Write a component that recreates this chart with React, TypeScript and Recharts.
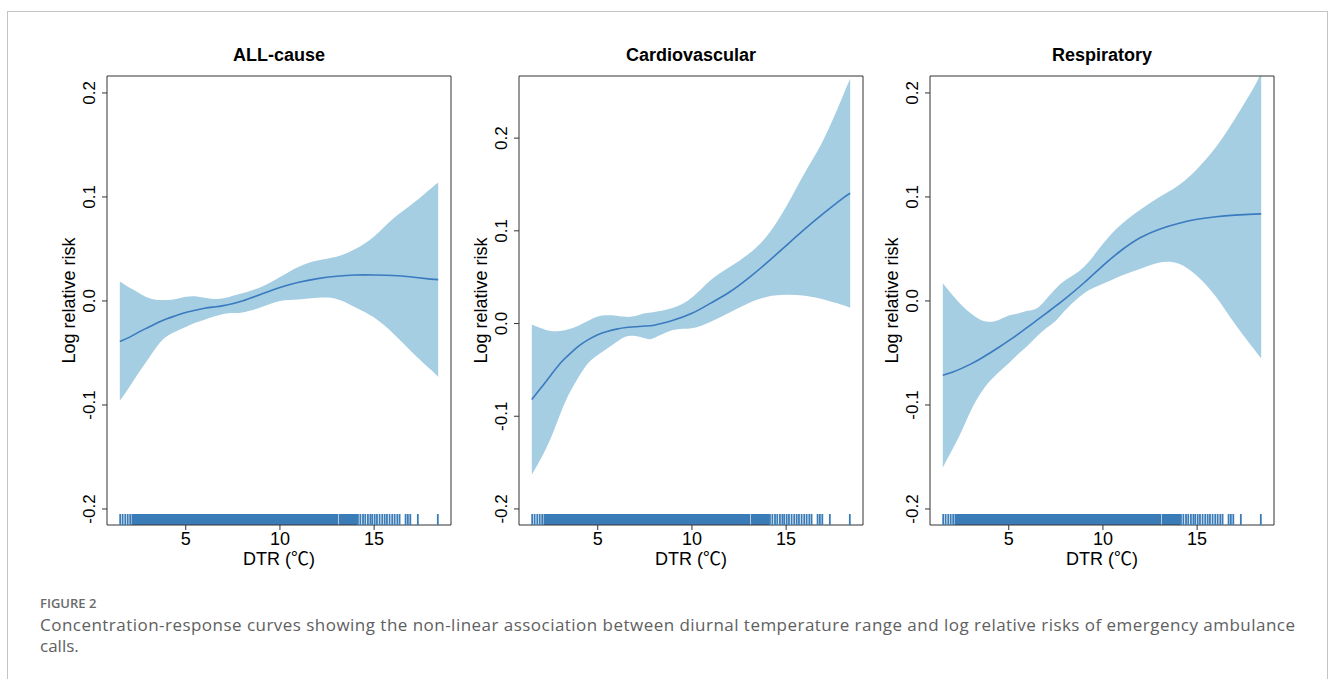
import React from 'react';
import {
  ComposedChart,
  Area,
  Line,
  Scatter,
  XAxis,
  YAxis,
  ReferenceArea,
} from 'recharts';

// DTR grid the curves were read at (°C)
const dtr = [1.5, 2, 2.5, 3, 3.5, 4, 4.5, 5, 5.5, 6, 6.5, 7, 7.5, 8, 9, 10, 11, 12, 13, 14, 15, 16, 17, 18, 18.4];

// ALL-cause
const allFit = [-0.039, -0.035, -0.03, -0.0255, -0.021, -0.017, -0.014, -0.011, -0.009, -0.007, -0.0058, -0.0045, -0.0025, 0.0, 0.0065, 0.013, 0.018, 0.0215, 0.0238, 0.025, 0.025, 0.0245, 0.023, 0.021, 0.0205];
const allHigh = [0.0188, 0.013, 0.008, 0.003, 0.001, 0.001, 0.002, 0.004, 0.0045, 0.003, 0.002, 0.0025, 0.005, 0.0075, 0.0135, 0.023, 0.033, 0.039, 0.0425, 0.05, 0.062, 0.079, 0.093, 0.108, 0.114];
const allLow = [-0.096, -0.083, -0.069, -0.056, -0.043, -0.034, -0.029, -0.025, -0.021, -0.018, -0.015, -0.0125, -0.0115, -0.011, -0.006, 0.0, 0.0015, 0.003, 0.002, -0.006, -0.016, -0.031, -0.049, -0.066, -0.073];

// Cardiovascular
const cvdFit = [-0.082, -0.069, -0.056, -0.043, -0.033, -0.024, -0.0173, -0.012, -0.0085, -0.006, -0.0043, -0.0035, -0.0027, -0.0018, 0.0035, 0.011, 0.022, 0.034, 0.049, 0.066, 0.084, 0.102, 0.119, 0.135, 0.1405];
const cvdHigh = [-0.001, -0.005, -0.008, -0.008, -0.006, -0.002, 0.003, 0.0075, 0.009, 0.0085, 0.0072, 0.008, 0.011, 0.0125, 0.017, 0.028, 0.047, 0.061, 0.075, 0.095, 0.126, 0.163, 0.199, 0.245, 0.264];
const cvdLow = [-0.163, -0.145, -0.124, -0.098, -0.075, -0.057, -0.0425, -0.034, -0.027, -0.02, -0.014, -0.0135, -0.016, -0.0155, -0.007, -0.005, 0.002, 0.012, 0.022, 0.029, 0.031, 0.03, 0.026, 0.02, 0.017];

// Respiratory
const respFit = [-0.0715, -0.0685, -0.0648, -0.0605, -0.0555, -0.05, -0.0443, -0.0382, -0.0318, -0.0252, -0.0185, -0.0117, -0.0048, 0.0022, 0.0175, 0.034, 0.049, 0.061, 0.069, 0.0745, 0.0785, 0.081, 0.0825, 0.0835, 0.0837];
const respHigh = [0.017, 0.006, -0.004, -0.012, -0.018, -0.02, -0.018, -0.014, -0.012, -0.0095, -0.007, 0.002, 0.012, 0.02, 0.033, 0.055, 0.074, 0.088, 0.1, 0.111, 0.127, 0.148, 0.175, 0.205, 0.22];
const respLow = [-0.16, -0.143, -0.125, -0.105, -0.089, -0.077, -0.068, -0.06, -0.051, -0.043, -0.034, -0.026, -0.019, -0.009, 0.0075, 0.0165, 0.0245, 0.031, 0.037, 0.036, 0.024, 0.004, -0.022, -0.046, -0.0554];

// rug of observed DTR values (same for every panel)
const rugTicks = [1.52, 1.65, 1.79, 1.92, 2.05, 14.14, 14.27, 14.41, 14.53, 14.67, 14.8, 14.9, 15.03, 15.15, 15.29, 15.43, 15.56, 15.68, 15.82, 15.96, 16.09, 16.23, 16.35, 16.67, 16.79, 16.92, 17.32, 18.38];
const rugDense = [[2.12, 13.09], [13.12, 14.1]];

const xTicks = [5, 10, 15];
const yTicks = [-0.2, -0.1, 0, 0.1, 0.2];
const xDomain = [0.82, 19.08];

const FONT = '"Liberation Sans", Arial, "Noto Sans CJK SC", sans-serif';
const BAND = '#a6cee3';
const LINE = '#3a7abf';
const RUG = '#3a7cb8';
const BOX_W = 344;
const BOX_H = 449;
const BOX_TOP = 76;

const buildRows = (fit: number[], low: number[], high: number[]) =>
  dtr.map((x, i) => ({ x, fit: fit[i], band: [low[i], high[i]] }));

const panels = [
  { title: 'ALL-cause', left: 107, yDomain: [-0.2154, 0.2163], rows: buildRows(allFit, allLow, allHigh) },
  { title: 'Cardiovascular', left: 519, yDomain: [-0.2173, 0.267], rows: buildRows(cvdFit, cvdLow, cvdHigh) },
  { title: 'Respiratory', left: 930, yDomain: [-0.2154, 0.2163], rows: buildRows(respFit, respLow, respHigh) },
];

const YTick = (props: any) => {
  const { x, y, payload } = props;
  const tx = x - 5;
  return (
    <text x={tx} y={y} transform={`rotate(-90 ${tx} ${y})`} textAnchor="middle" fontSize={17} fill="#000" fontFamily={FONT}>
      {Number(payload.value).toFixed(1)}
    </text>
  );
};

const RugTick = (props: any) => {
  const { cx, cy } = props;
  return <line x1={cx} x2={cx} y1={cy} y2={cy - 11} stroke={RUG} strokeWidth={1.8} />;
};

const RugBlock = (props: any) => {
  const { x, y, width, height } = props;
  return <rect x={x} y={y + height - 11} width={width} height={11} fill={RUG} />;
};

function Panel({ panel }: { panel: (typeof panels)[number] }) {
  const rug = rugTicks.map((x) => ({ x, y: panel.yDomain[0] }));
  return (
    <div style={{ position: 'absolute', left: panel.left - 60, top: BOX_TOP - 10 }}>
      <ComposedChart
        width={BOX_W + 70}
        height={BOX_H + 60}
        data={panel.rows}
        margin={{ top: 10, right: 10, bottom: 0, left: 20 }}
      >
        <XAxis
          type="number"
          dataKey="x"
          domain={xDomain}
          ticks={xTicks}
          interval={0}
          allowDataOverflow
          height={50}
          axisLine={false}
          tickSize={5}
          tickLine={{ stroke: '#333' }}
          tick={{ fill: '#000', fontSize: 18, fontFamily: FONT }}
        />
        <YAxis
          type="number"
          domain={panel.yDomain}
          ticks={yTicks}
          interval={0}
          allowDataOverflow
          width={40}
          axisLine={false}
          tickSize={5}
          tickLine={{ stroke: '#333' }}
          tick={<YTick />}
        />
        <Area dataKey="band" type="natural" fill={BAND} fillOpacity={1} stroke="none" isAnimationActive={false} />
        <Line dataKey="fit" type="natural" stroke={LINE} strokeWidth={1.6} dot={false} isAnimationActive={false} />
        {rugDense.map(([a, b]) => (
          <ReferenceArea key={a} x1={a} x2={b} shape={<RugBlock />} ifOverflow="visible" />
        ))}
        <Scatter data={rug} dataKey="y" shape={<RugTick />} isAnimationActive={false} />
        <ReferenceArea
          x1={xDomain[0]}
          x2={xDomain[1]}
          y1={panel.yDomain[0]}
          y2={panel.yDomain[1]}
          fill="none"
          fillOpacity={0}
          stroke="#333"
          strokeWidth={1}
          ifOverflow="visible"
        />
      </ComposedChart>
    </div>
  );
}

export default function App() {
  const midY = BOX_TOP + BOX_H / 2;
  return (
    <div style={{ position: 'absolute', left: 0, top: 0, width: 1330, height: 679, background: '#fff', overflow: 'hidden' }}>
      <div style={{ position: 'absolute', left: 7, top: 11, width: 1319, height: 700, border: '1px solid #c4c4c4' }} />
      {panels.map((p) => (
        <Panel key={p.title} panel={p} />
      ))}
      <svg width={1330} height={679} style={{ position: 'absolute', left: 0, top: 0, pointerEvents: 'none' }}>
        {panels.map((p) => {
          const cx = p.left + BOX_W / 2;
          const lx = p.left - 32;
          return (
            <g key={p.title} fontFamily={FONT} fill="#000">
              <text x={cx} y={61} textAnchor="middle" fontSize={18} fontWeight="bold">{p.title}</text>
              <text x={lx} y={midY} textAnchor="middle" fontSize={18} transform={`rotate(-90 ${lx} ${midY})`}>Log relative risk</text>
              <text x={cx} y={565} textAnchor="middle" fontSize={18}>DTR (℃)</text>
            </g>
          );
        })}
        <g fontFamily='"Open Sans", "Noto Sans", sans-serif'>
          <text x={40} y={608} fontSize={13} fontWeight={600} fill="#6a6a6a">FIGURE 2</text>
          <text x={40} y={631} fontSize={17} fill="#606060" textLength={1255} lengthAdjust="spacing">
            Concentration-response curves showing the non-linear association between diurnal temperature range and log relative risks of emergency ambulance
          </text>
          <text x={40} y={652} fontSize={17} fill="#606060">calls.</text>
        </g>
      </svg>
    </div>
  );
}
